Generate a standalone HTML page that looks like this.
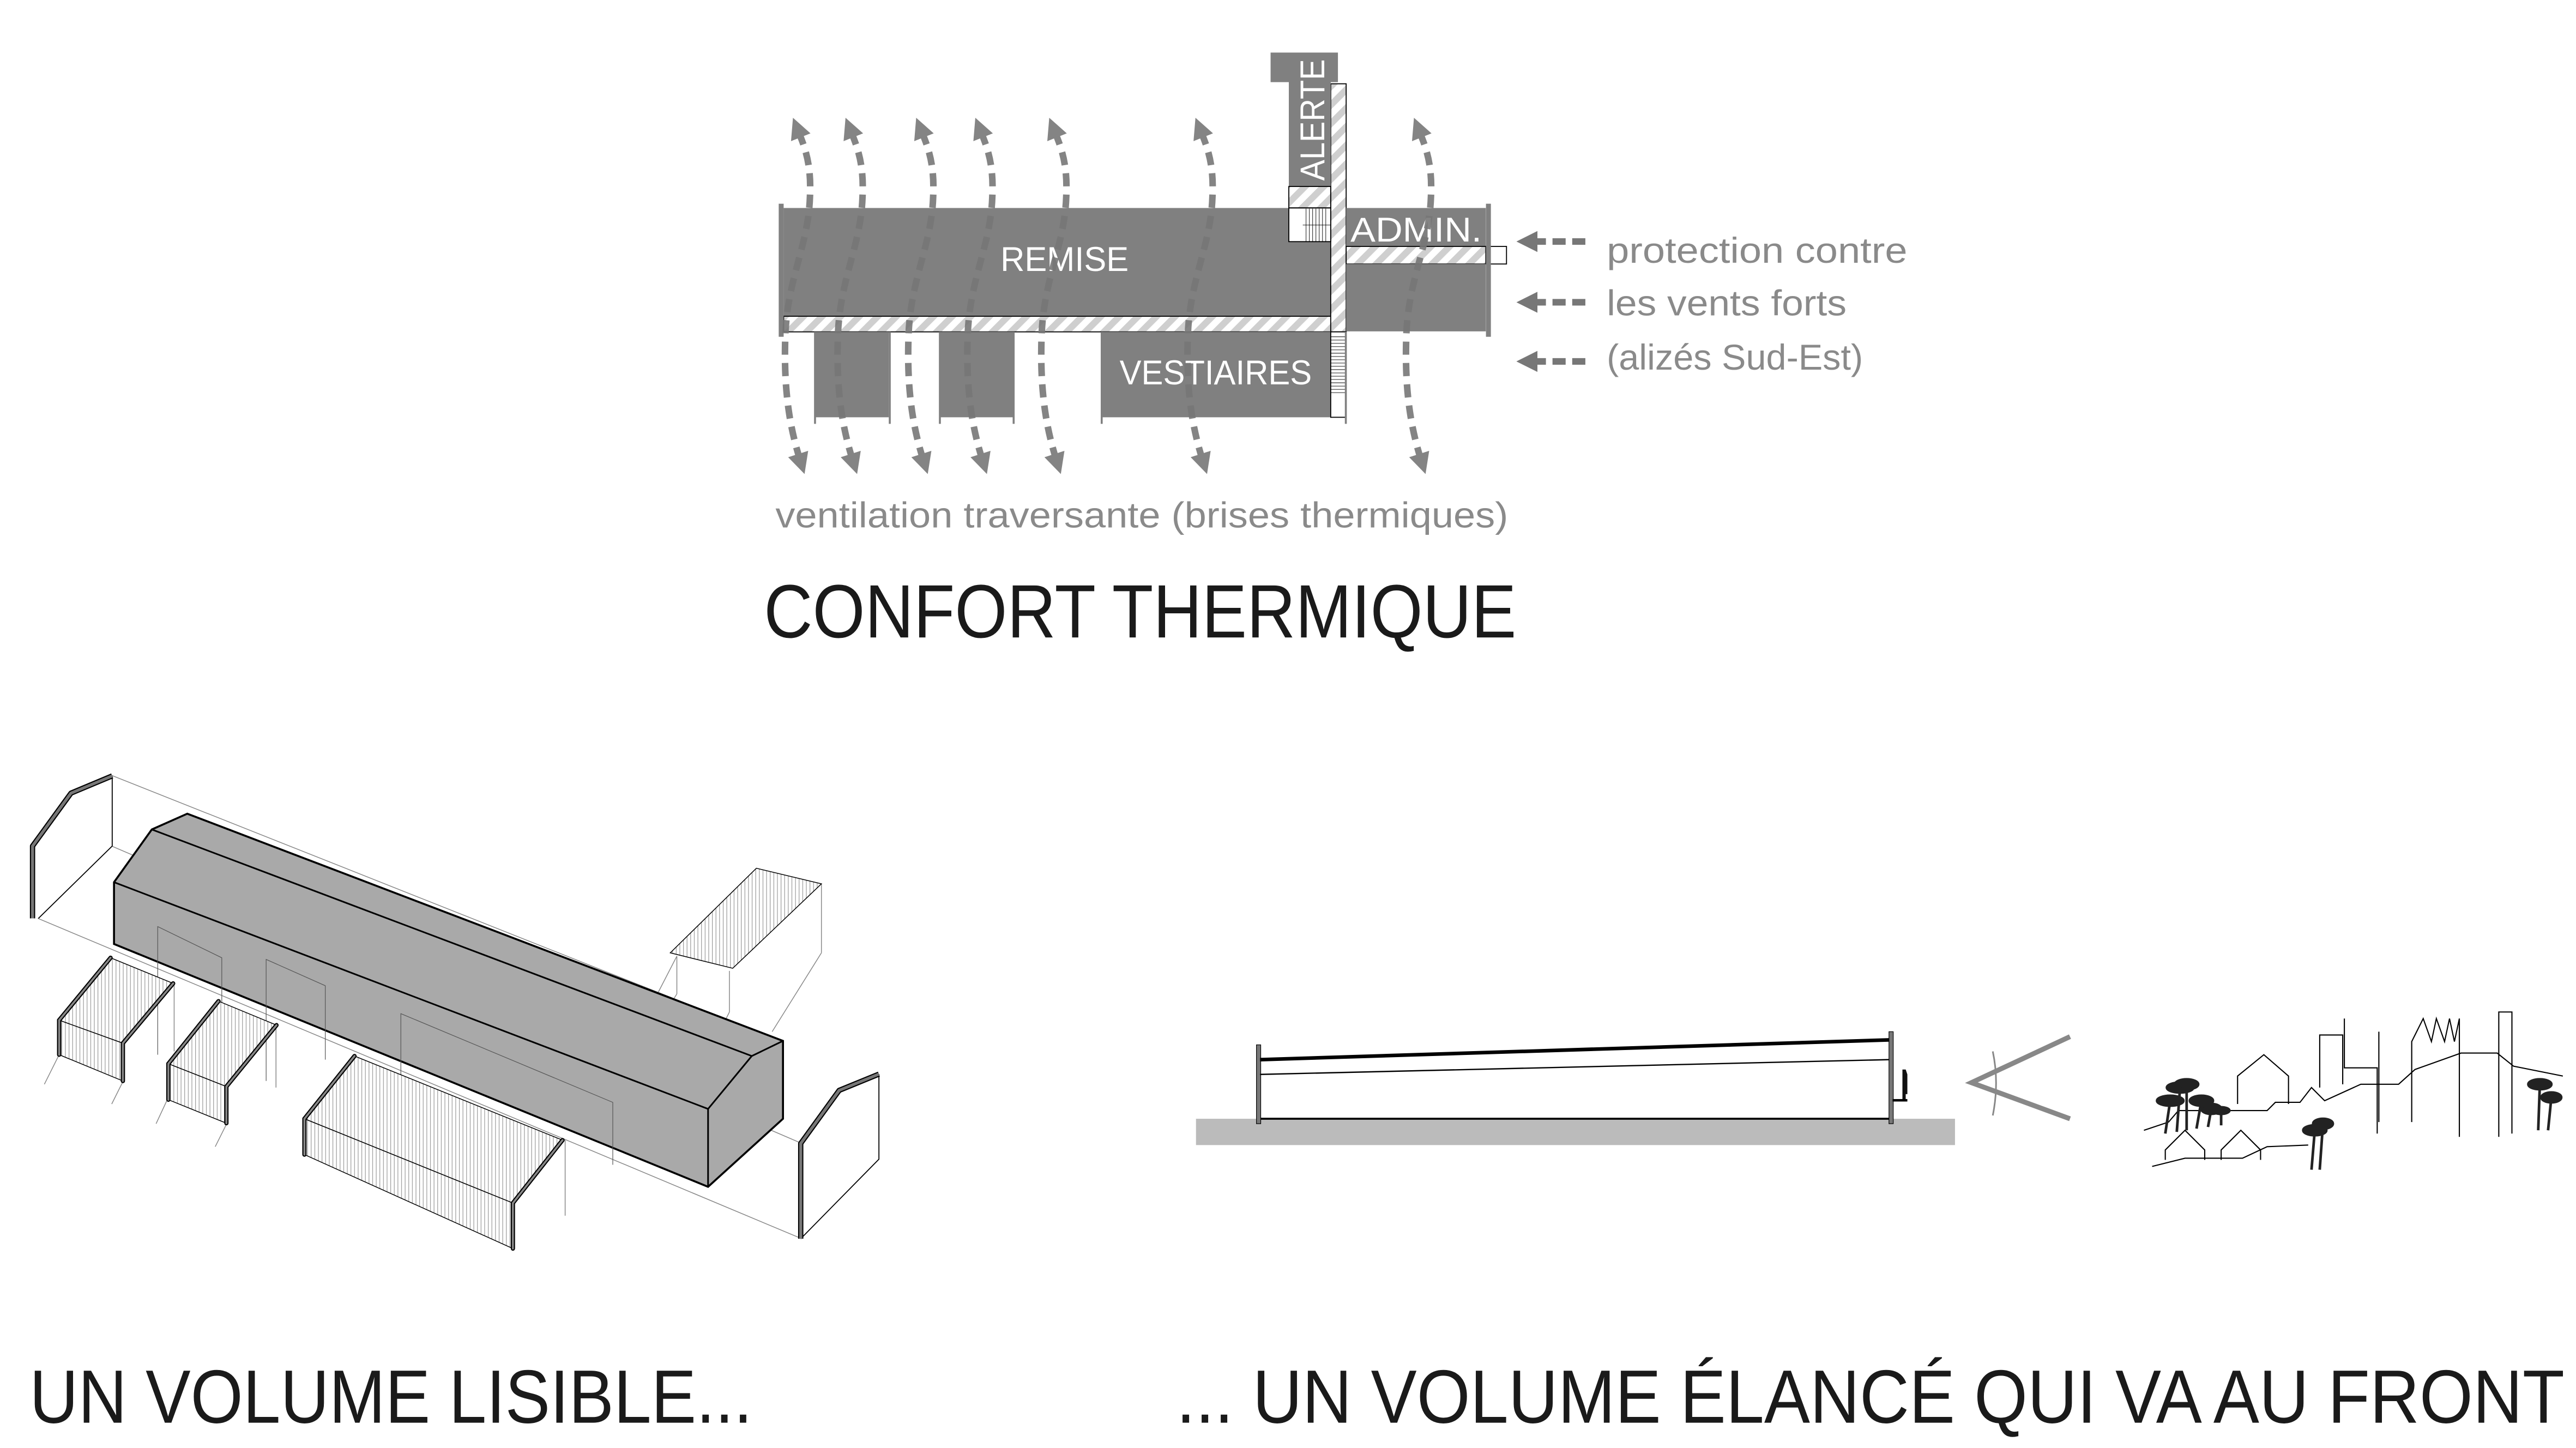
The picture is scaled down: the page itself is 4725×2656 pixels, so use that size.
<!DOCTYPE html>
<html><head><meta charset="utf-8"><style>
html,body{margin:0;padding:0;background:#fff;}
svg{display:block;}
text{font-family:"Liberation Sans","DejaVu Sans",sans-serif;}
</style></head><body>
<svg width="4725" height="2656" viewBox="0 0 1568 881.4" xmlns="http://www.w3.org/2000/svg">
<defs>
<pattern id="h" patternUnits="userSpaceOnUse" width="8" height="8" patternTransform="rotate(45)">
<rect width="8" height="8" fill="#fff"/><rect width="4" height="8" fill="#cfcfcf"/>
</pattern>
<pattern id="v" patternUnits="userSpaceOnUse" width="2.2" height="10">
<rect width="2.2" height="10" fill="#fff"/><rect width="0.4" height="10" fill="#999"/>
</pattern>
<marker id="ah" viewBox="0 0 10 10" refX="3" refY="5" markerWidth="3.2" markerHeight="3.2" orient="auto-start-reverse">
<path d="M0,0 L10,5 L0,10 z" fill="#777"/>
</marker>
<path id="w" d="M1,280 C -6,258 -9,235 -8,205 C -7,170 6,150 7,120 C 8,100 4,90 0,80" fill="none" stroke="#777" stroke-width="4" stroke-dasharray="8 5" marker-start="url(#ah)" marker-end="url(#ah)"/>
</defs>

<!-- PLAN -->
<rect x="477" y="126.6" width="331" height="66" fill="#808080"/>
<rect x="784.5" y="145" width="26" height="48" fill="#808080"/>
<rect x="477" y="192.5" width="342" height="9.5" fill="url(#h)" stroke="#000" stroke-width="0.6"/>
<rect x="810" y="51" width="9.4" height="151" fill="url(#h)" stroke="#000" stroke-width="0.6"/>
<rect x="773.4" y="32" width="41" height="18" fill="#808080"/>
<rect x="784.5" y="45" width="25.5" height="68.5" fill="#808080"/>
<rect x="784.5" y="113.5" width="25.5" height="13" fill="url(#h)" stroke="#000" stroke-width="0.6"/>
<rect x="784.5" y="126.6" width="25.5" height="20.5" fill="#fff" stroke="#000" stroke-width="0.6"/>
<g stroke="#000" stroke-width="0.3">
<line x1="795" y1="127" x2="795" y2="147"/><line x1="797" y1="127" x2="797" y2="147"/><line x1="799" y1="127" x2="799" y2="147"/><line x1="801" y1="127" x2="801" y2="147"/><line x1="803" y1="127" x2="803" y2="147"/><line x1="805" y1="127" x2="805" y2="147"/><line x1="807" y1="127" x2="807" y2="147"/><line x1="793" y1="137" x2="810" y2="137"/>
</g>
<rect x="819.4" y="126.6" width="85" height="23.4" fill="#808080"/>
<rect x="819.4" y="150" width="85" height="10.7" fill="url(#h)" stroke="#000" stroke-width="0.6"/>
<rect x="904.5" y="150" width="12.5" height="10.7" fill="#fff" stroke="#000" stroke-width="0.6"/>
<rect x="819.4" y="160.7" width="85" height="41" fill="#808080"/>
<rect x="474" y="124" width="3" height="81" fill="#808080"/>
<rect x="904.5" y="124" width="3" height="81" fill="#808080"/>
<rect x="496.5" y="202" width="44.5" height="52" fill="#808080"/>
<rect x="572.5" y="202" width="44" height="52" fill="#808080"/>
<rect x="670.7" y="202" width="139.3" height="52" fill="#808080"/>
<rect x="810" y="202" width="9.4" height="52" fill="#fff" stroke="#000" stroke-width="0.6"/>
<g stroke="#000" stroke-width="0.3"><line x1="810" y1="205" x2="819" y2="205"/><line x1="810" y1="207" x2="819" y2="207"/><line x1="810" y1="209" x2="819" y2="209"/><line x1="810" y1="211" x2="819" y2="211"/><line x1="810" y1="213" x2="819" y2="213"/><line x1="810" y1="215" x2="819" y2="215"/><line x1="810" y1="217" x2="819" y2="217"/><line x1="810" y1="219" x2="819" y2="219"/><line x1="810" y1="221" x2="819" y2="221"/><line x1="810" y1="223" x2="819" y2="223"/><line x1="810" y1="225" x2="819" y2="225"/><line x1="810" y1="227" x2="819" y2="227"/><line x1="810" y1="229" x2="819" y2="229"/><line x1="810" y1="231" x2="819" y2="231"/><line x1="810" y1="233" x2="819" y2="233"/><line x1="810" y1="235" x2="819" y2="235"/><line x1="810" y1="237" x2="819" y2="237"/><line x1="810" y1="239" x2="819" y2="239"/></g>
<g fill="#808080"><rect x="495.5" y="202" width="1.2" height="56"/><rect x="541" y="202" width="1.2" height="56"/><rect x="571.5" y="202" width="1.2" height="56"/><rect x="616.4" y="202" width="1.2" height="56"/><rect x="670" y="202" width="1.2" height="56"/><rect x="818.6" y="202" width="1.2" height="56"/></g>

<text x="648" y="165" fill="#fff" font-size="21" text-anchor="middle" textLength="78" lengthAdjust="spacingAndGlyphs">REMISE</text>
<text x="740" y="234" fill="#fff" font-size="21" text-anchor="middle" textLength="117" lengthAdjust="spacingAndGlyphs">VESTIAIRES</text>
<text x="862" y="147" fill="#fff" font-size="21" text-anchor="middle" textLength="80" lengthAdjust="spacingAndGlyphs">ADMIN.</text>
<text transform="translate(806,73) rotate(-90)" fill="#fff" font-size="21" text-anchor="middle" textLength="74" lengthAdjust="spacingAndGlyphs">ALERTE</text>

<g opacity="0.9">
<use href="#w" x="486"/><use href="#w" x="518"/><use href="#w" x="561"/><use href="#w" x="597"/><use href="#w" x="642"/><use href="#w" x="731"/><use href="#w" x="864"/>
</g>
<g stroke="#777" stroke-width="4" stroke-dasharray="8 4" marker-end="url(#ah)">
<line x1="965" y1="147" x2="932" y2="147"/><line x1="965" y1="184" x2="932" y2="184"/><line x1="965" y1="220" x2="932" y2="220"/>
</g>
<g fill="#8a8a8a" font-size="22">
<text x="978" y="160" textLength="183" lengthAdjust="spacingAndGlyphs">protection contre</text>
<text x="978" y="192" textLength="146" lengthAdjust="spacingAndGlyphs">les vents forts</text>
<text x="978" y="225" textLength="156" lengthAdjust="spacingAndGlyphs">(alizés Sud-Est)</text>
<text x="472" y="321" textLength="446" lengthAdjust="spacingAndGlyphs">ventilation traversante (brises thermiques)</text>
</g>
<text x="465" y="388" font-size="46" fill="#1a1a1a" textLength="458" lengthAdjust="spacingAndGlyphs">CONFORT THERMIQUE</text>

<!-- ISO -->
<g stroke="#888" stroke-width="0.5" fill="none">
<line x1="68" y1="472" x2="476" y2="634"/><line x1="68" y1="515" x2="488" y2="696"/><line x1="23" y1="559" x2="488" y2="754"/>
<line x1="36" y1="642" x2="27" y2="660"/><line x1="75" y1="658" x2="68" y2="672"/><line x1="102" y1="669" x2="95" y2="684"/><line x1="138" y1="684" x2="131" y2="698"/>
<line x1="344" y1="694" x2="344" y2="740"/><line x1="106" y1="598" x2="106" y2="640"/><line x1="168" y1="624" x2="168" y2="662"/>
<line x1="412" y1="582" x2="412" y2="605"/><line x1="444" y1="591" x2="444" y2="616"/><line x1="500" y1="538" x2="500" y2="580"/>
<line x1="412" y1="605" x2="390" y2="640"/><line x1="444" y1="616" x2="432" y2="640"/><line x1="500" y1="580" x2="470" y2="628"/><line x1="412" y1="582" x2="395" y2="615"/>
</g>
<polygon points="114,495.3 476.6,633.6 476.6,681 431,722.4 69.4,574.6 69.4,537 92.4,504.9" fill="#a9a9a9" stroke="#000" stroke-width="1.2"/>
<g stroke="#000" stroke-width="1" fill="none">
<line x1="92.4" y1="504.9" x2="457.6" y2="642.8"/><line x1="69.4" y1="537" x2="431" y2="675"/><line x1="431" y1="675" x2="431" y2="722.4"/><line x1="431" y1="675" x2="457.6" y2="642.8"/><line x1="457.6" y1="642.8" x2="476.6" y2="633.6"/>
</g>
<g stroke="#555" stroke-width="0.4" fill="none">
<polyline points="96,642 96,564 135,583 135,627"/><polyline points="162,658 162,584 198,600 198,645"/><polyline points="244,690 244,617 373,671 373,709"/>
</g>
<polyline points="68.3,472.3 68.3,515 23.4,559" fill="none" stroke="#000" stroke-width="0.6"/>
<polyline points="19.8,559 19.8,515 43.2,482.8 68.3,472.3" fill="none" stroke="#000" stroke-width="3.2" stroke-linejoin="round"/>
<polyline points="19.8,559 19.8,515 43.2,482.8 68.3,472.3" fill="none" stroke="#777" stroke-width="1.8" stroke-linejoin="round"/>
<polyline points="535,653.8 535,705.6 487.4,754" fill="none" stroke="#000" stroke-width="0.6"/>
<polyline points="487.4,754 487.4,696 510.8,663.7 535,653.8" fill="none" stroke="#000" stroke-width="3.2" stroke-linejoin="round"/>
<polyline points="487.4,754 487.4,696 510.8,663.7 535,653.8" fill="none" stroke="#777" stroke-width="1.8" stroke-linejoin="round"/>
<g stroke="#000" stroke-width="0.5">
<polygon points="36,621 67.3,583 105.4,598.6 74.8,635" fill="url(#v)"/>
<polygon points="36,621 74.8,635 74.8,658 36,642" fill="url(#v)"/>
<polygon points="102.5,647.5 133,609.4 168.3,624 137.8,661.4" fill="url(#v)"/>
<polygon points="102.5,647.5 137.8,661.4 137.8,683.7 102.5,669.4" fill="url(#v)"/>
<polygon points="185.3,681 215.8,642.8 342.4,694 312.2,732.3" fill="url(#v)"/>
<polygon points="185.3,681 312.2,732.3 312.2,760 185.3,702.8" fill="url(#v)"/>
<polygon points="408,580 446,589.4 500,538 460.4,528.5" fill="url(#v)"/>
</g>
<g stroke="#000" stroke-width="2.6" fill="none" stroke-linecap="round">
<polyline points="36,642 36,621 67.3,583"/><polyline points="74.8,658 74.8,635 105.4,598.6"/>
<polyline points="102.5,669.4 102.5,647.5 133,609.4"/><polyline points="137.8,683.7 137.8,661.4 168.3,624"/>
<polyline points="185.3,702.8 185.3,681 215.8,642.8"/><polyline points="312.2,760 312.2,732.3 342.4,694"/>
</g>
<g stroke="#888" stroke-width="1.2" fill="none" stroke-linecap="round">
<polyline points="36,642 36,621 67.3,583"/><polyline points="74.8,658 74.8,635 105.4,598.6"/>
<polyline points="102.5,669.4 102.5,647.5 133,609.4"/><polyline points="137.8,683.7 137.8,661.4 168.3,624"/>
<polyline points="185.3,702.8 185.3,681 215.8,642.8"/><polyline points="312.2,760 312.2,732.3 342.4,694"/>
</g>

<!-- SECTION -->
<rect x="728" y="681" width="462" height="16" fill="#bbb"/>
<line x1="766" y1="681" x2="1151" y2="681" stroke="#000" stroke-width="1.2"/>
<rect x="764.8" y="636" width="2.6" height="48" fill="#777" stroke="#000" stroke-width="0.4"/>
<rect x="1149.8" y="628" width="2.6" height="56" fill="#777" stroke="#000" stroke-width="0.4"/>
<line x1="767" y1="645" x2="1150" y2="633" stroke="#000" stroke-width="2.2"/>
<line x1="767" y1="654" x2="1150" y2="645" stroke="#000" stroke-width="0.8"/>
<path d="M1158,651 l2,0 l1,3 l0,12 l-1,0 l0,4 l-2,0 z" fill="#111"/>
<rect x="1152" y="669" width="9" height="1.5" fill="#000"/>
<polyline points="1260,631 1200,659 1260,681" fill="none" stroke="#888" stroke-width="3"/>
<path d="M1213,640 Q1217,659 1213,679" fill="none" stroke="#888" stroke-width="1"/>
<g fill="none" stroke="#000" stroke-width="0.7">
<polyline points="1305,688 1320,683 1326,676 1380,676 1385,671 1400,671 1407,662 1415,670 1437,660 1460,660 1470,651 1498,641 1520,641 1530,649 1560,655"/>
<polyline points="1362,672 1362,655 1378,642 1393,655 1393,672"/>
<polyline points="1412,662 1412,630 1426,630 1426,660"/>
<polyline points="1427,620 1427,650 1447,650 1447,690"/>
<polyline points="1448,628 1448,683"/>
<polyline points="1468,683 1468,634 1475,620 1480,634 1483,620 1488,634 1491,620 1494,634 1497,620 1497,692"/>
<polyline points="1521,692 1521,616 1529,616 1529,690"/>
<polyline points="1318,706 1318,700 1330,688 1342,700 1342,706"/>
<polyline points="1352,706 1352,700 1364,688 1376,700 1376,706"/>
<polyline points="1310,710 1330,705 1365,705 1380,698 1405,697"/>
</g>
<g stroke="#222" stroke-width="1.6" fill="#222">
<line x1="1318" y1="690" x2="1321" y2="670"/><line x1="1325" y1="689" x2="1327" y2="662"/><line x1="1331" y1="688" x2="1331" y2="660"/><line x1="1337" y1="687" x2="1340" y2="670"/><line x1="1344" y1="686" x2="1346" y2="675"/><line x1="1352" y1="685" x2="1352" y2="676"/>
<line x1="1407" y1="712" x2="1409" y2="688"/><line x1="1412" y1="712" x2="1414" y2="684"/>
<line x1="1545" y1="688" x2="1546" y2="660"/><line x1="1551" y1="688" x2="1553" y2="668"/>
<ellipse cx="1321" cy="670" rx="8" ry="3"/><ellipse cx="1327" cy="662" rx="8" ry="3"/><ellipse cx="1331" cy="660" rx="7" ry="3"/><ellipse cx="1340" cy="670" rx="7" ry="3"/><ellipse cx="1346" cy="675" rx="6" ry="3"/><ellipse cx="1352" cy="676" rx="5" ry="2"/>
<ellipse cx="1409" cy="688" rx="7" ry="3"/><ellipse cx="1414" cy="684" rx="6" ry="3"/>
<ellipse cx="1546" cy="660" rx="7" ry="3"/><ellipse cx="1553" cy="668" rx="6" ry="3"/>
</g>

<text x="18" y="866" font-size="46" fill="#1a1a1a" textLength="440" lengthAdjust="spacingAndGlyphs">UN VOLUME LISIBLE...</text>
<text x="716" y="866" font-size="46" fill="#1a1a1a" textLength="845" lengthAdjust="spacingAndGlyphs">... UN VOLUME ÉLANCÉ QUI VA AU FRONT</text>
</svg>
</body></html>
